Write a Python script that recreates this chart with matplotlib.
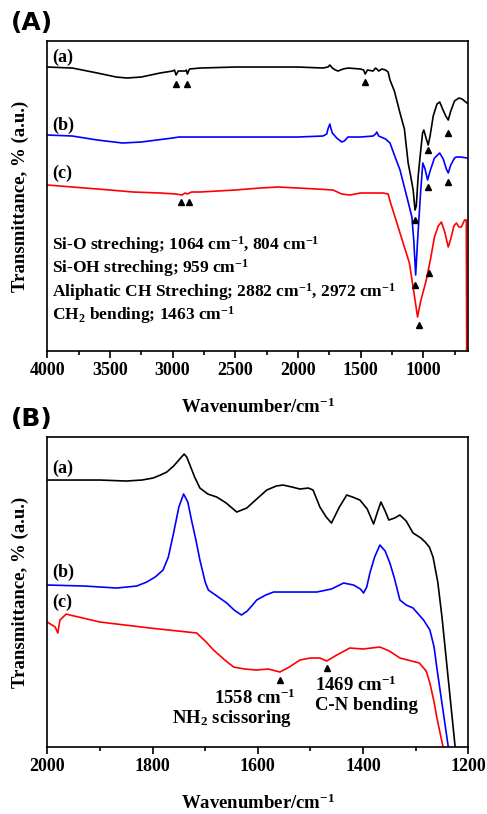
"""
FTIR spectra, two panels: (A) full range, (B) 2000-1200 cm-1 zoom.
"""

import numpy as np
import matplotlib.pyplot as plt
from matplotlib.ticker import MultipleLocator

# ---- panel A data (wavenumber cm-1, transmittance a.u.) ----
a_black_w = [4000, 3800, 3600, 3450, 3364, 3250, 3100, 3000, 2985, 2972, 2955, 2900, 2890, 2882,
             2865, 2780, 2500, 2000, 1800, 1760, 1745, 1725, 1700, 1680, 1640, 1600, 1500, 1475,
             1463, 1445, 1400, 1380, 1370, 1355, 1330, 1300, 1280, 1265, 1230, 1185, 1150, 1120,
             1100, 1080, 1065, 1055, 1040, 1020, 1005, 995, 975, 960, 945, 920, 890, 868, 845,
             820, 800, 780, 750, 715, 690, 650]
a_black_t = [284, 283, 278, 274, 273, 274, 278, 280, 281, 276, 280, 280, 281, 277,
             282, 283, 284, 284, 283, 284, 286, 283, 281, 280, 282, 283, 282, 281,
             277, 281, 280, 283, 282, 280, 282, 281, 279, 271, 260, 238, 222, 188,
             175, 161, 141, 145, 175, 200, 218, 221, 212, 206, 215, 235, 247, 249, 242,
             235, 231, 240, 250, 253, 252, 248]

a_blue_w = [4000, 3800, 3600, 3400, 3250, 3000, 2950, 2800, 2500, 2250, 2000, 1800, 1770, 1760,
            1745, 1735, 1725, 1690, 1650, 1630, 1600, 1500, 1400, 1380, 1370, 1355, 1300, 1265,
            1230, 1185, 1130, 1090, 1075, 1060, 1045, 1020, 1003, 985, 965, 945, 910, 868, 840,
            815, 800, 780, 750, 735, 700, 650]
a_blue_t = [216, 215, 211, 208, 209, 213, 214, 214, 214, 214, 214, 215, 217, 222,
            227, 222, 218, 213, 209, 210, 214, 214, 215, 217, 219, 215, 212, 208,
            196, 181, 154, 134, 110, 76, 110, 160, 188, 182, 171, 180, 193, 198, 192,
            182, 178, 186, 193, 194, 194, 193]

a_red_w = [4000, 3700, 3500, 3315, 3100, 2972, 2925, 2900, 2882, 2850, 2780, 2500, 2300, 2160,
           2000, 1850, 1720, 1650, 1585, 1500, 1400, 1320, 1280, 1265, 1240, 1210, 1160, 1110,
           1070, 1045, 1020, 975, 940, 910, 880, 855, 830, 800, 780, 755, 735, 715, 695, 670,
           656, 652]
a_red_t = [166, 163, 161, 159, 158, 157, 156, 158, 157, 159, 159, 161, 163, 164,
           163, 162, 161, 157, 156, 158, 158, 158, 157, 150, 140, 128, 108, 88,
           55, 34, 50, 71, 93, 114, 125, 129, 120, 104, 112, 125, 128, 124, 124, 131,
           131, -40]

# arrow markers, panel A
a_mark_black_w = [2972, 2882, 1463, 1064, 959, 804]
a_mark_black_t = [267, 267, 269, 131, 201, 218]
a_mark_blue_w = [1064, 959, 804]
a_mark_blue_t = [66, 164, 169]
a_mark_red_w = [2930, 2870, 1033, 953]
a_mark_red_t = [149, 149, 26, 78]

# ---- panel B data ----
b_black_w = [2000, 1900, 1850, 1820, 1799, 1785, 1773, 1760, 1750, 1740, 1735, 1729, 1720, 1710,
             1695, 1678, 1660, 1640, 1621, 1600, 1583, 1565, 1552, 1535, 1520, 1504, 1495, 1482,
             1470, 1460, 1445, 1431, 1420, 1406, 1392, 1380, 1372, 1366, 1358, 1351, 1340, 1330,
             1318, 1305, 1290, 1282, 1274, 1267, 1258, 1250, 1225]
b_black_t = [267, 267, 266, 267, 269, 272, 275, 281, 287, 293, 290, 282, 270, 259,
             253, 250, 244, 235, 239, 249, 257, 261, 262, 260, 258, 259, 257, 240,
             230, 224, 240, 252, 250, 247, 238, 223, 236, 245, 236, 227, 229, 232,
             226, 214, 209, 205, 200, 190, 165, 130, 0]

b_blue_w = [2000, 1930, 1868, 1830, 1811, 1795, 1780, 1770, 1760, 1750, 1741, 1733, 1726, 1718,
            1710, 1700, 1694, 1675, 1659, 1645, 1631, 1620, 1610, 1602, 1585, 1570, 1530, 1488,
            1460, 1437, 1418, 1405, 1399, 1393, 1387, 1378, 1368, 1358, 1349, 1340, 1330, 1318,
            1305, 1285, 1273, 1265, 1260, 1238]
b_blue_t = [162, 161, 159, 161, 165, 170, 177, 190, 214, 240, 253, 245, 227, 208,
            187, 165, 157, 150, 144, 137, 132, 136, 142, 147, 152, 155, 155, 155,
            158, 164, 162, 158, 154, 160, 174, 190, 202, 196, 184, 168, 147, 142,
            139, 127, 117, 100, 80, 0]

b_red_w = [2000, 1985, 1980, 1976, 1964, 1957, 1900, 1805, 1716, 1700, 1684, 1665, 1646, 1625,
           1602, 1580, 1558, 1540, 1520, 1500, 1482, 1469, 1450, 1425, 1400, 1368, 1350, 1330,
           1293, 1280, 1273, 1265, 1260, 1248]
b_red_t = [125, 120, 114, 127, 133, 132, 125, 119, 114, 106, 97, 88, 80, 78,
           77, 78, 75, 80, 87, 89, 89, 86, 92, 99, 98, 100, 96, 89,
           84, 76, 64, 45, 30, 0]

b_mark_w = [1558, 1469]
b_mark_t = [67, 79]

plt.rcParams['font.family'] = ['Liberation Serif', 'DejaVu Serif']
plt.rcParams['font.weight'] = 'bold'
plt.rcParams['mathtext.fontset'] = 'custom'
plt.rcParams['mathtext.rm'] = 'Liberation Serif:bold'
plt.rcParams['mathtext.it'] = 'Liberation Serif:bold'
plt.rcParams['mathtext.bf'] = 'Liberation Serif:bold'

fig = plt.figure(figsize=(4.87, 8.14), dpi=100)
axA = fig.add_axes([0.0971, 0.5688, 0.8645, 0.3808])
axB = fig.add_axes([0.0971, 0.0823, 0.8645, 0.3808])


def style_axis(ax):
    for sp in ax.spines.values():
        sp.set_linewidth(1.2)
    ax.tick_params(axis='x', which='major', direction='out', length=5, width=1.2,
                   labelsize=13, pad=3, top=False)
    ax.tick_params(axis='x', which='minor', direction='out', length=3, width=1.2, top=False)
    ax.set_yticks([])
    ax.set_ylabel('Transmittance, % (a.u.)', fontsize=13.5, fontweight='bold', labelpad=13)
    ax.set_xlabel('Wavenumber/cm$^{-1}$', fontsize=13.5, fontweight='bold', labelpad=13)


lw = 1.2
# Panel A
axA.plot(a_black_w, a_black_t, color='black', lw=lw)
axA.plot(a_blue_w, a_blue_t, color='#0000ff', lw=lw)
axA.plot(a_red_w, a_red_t, color='#ff0000', lw=lw)
for w, t in [(a_mark_black_w, a_mark_black_t), (a_mark_blue_w, a_mark_blue_t),
             (a_mark_red_w, a_mark_red_t)]:
    axA.plot(w, t, '^', color='black', markersize=4.5, linestyle='none')
axA.set_xlim(4000, 640)
axA.set_ylim(0, 310)
axA.xaxis.set_major_locator(MultipleLocator(500))
axA.xaxis.set_minor_locator(MultipleLocator(250))
style_axis(axA)

for lab, yf in [('(a)', 0.948), ('(b)', 0.729), ('(c)', 0.574)]:
    axA.text(0.011, yf, lab, transform=axA.transAxes, fontsize=13, va='center', ha='left')

notes = ['Si-O streching; 1064 cm$^{-1}$, 804 cm$^{-1}$',
         'Si-OH streching; 959 cm$^{-1}$',
         'Aliphatic CH Streching; 2882 cm$^{-1}$, 2972 cm$^{-1}$',
         'CH$_2$ bending; 1463 cm$^{-1}$']
for note, yf in zip(notes, [0.342, 0.268, 0.190, 0.116]):
    axA.text(0.011, yf, note, transform=axA.transAxes, fontsize=12.5, va='center', ha='left')

# Panel B
axB.plot(b_black_w, b_black_t, color='black', lw=lw)
axB.plot(b_blue_w, b_blue_t, color='#0000ff', lw=lw)
axB.plot(b_red_w, b_red_t, color='#ff0000', lw=lw)
axB.plot(b_mark_w, b_mark_t, '^', color='black', markersize=4.5, linestyle='none')
axB.set_xlim(2000, 1200)
axB.set_ylim(0, 310)
axB.xaxis.set_major_locator(MultipleLocator(200))
axB.xaxis.set_minor_locator(MultipleLocator(100))
style_axis(axB)

for lab, yf in [('(a)', 0.900), ('(b)', 0.565), ('(c)', 0.468)]:
    axB.text(0.011, yf, lab, transform=axB.transAxes, fontsize=13, va='center', ha='left')

axB.text(1605, 49, '1558 cm$^{-1}$', fontsize=13.5, ha='center', va='center')
axB.text(1649, 29, 'NH$_2$ scissoring', fontsize=13.5, ha='center', va='center')
axB.text(1491, 62, '1469 cm$^{-1}$', fontsize=13.5, ha='left', va='center')
axB.text(1491, 42, 'C-N bending', fontsize=13.5, ha='left', va='center')

# panel letters
fig.text(0.022, 1 - 23 / 814, '(A)', fontsize=18, fontweight='bold',
         family='DejaVu Sans', va='center', ha='left')
fig.text(0.022, 1 - 419 / 814, '(B)', fontsize=18, fontweight='bold',
         family='DejaVu Sans', va='center', ha='left')

fig.savefig('out.png', dpi=100)
